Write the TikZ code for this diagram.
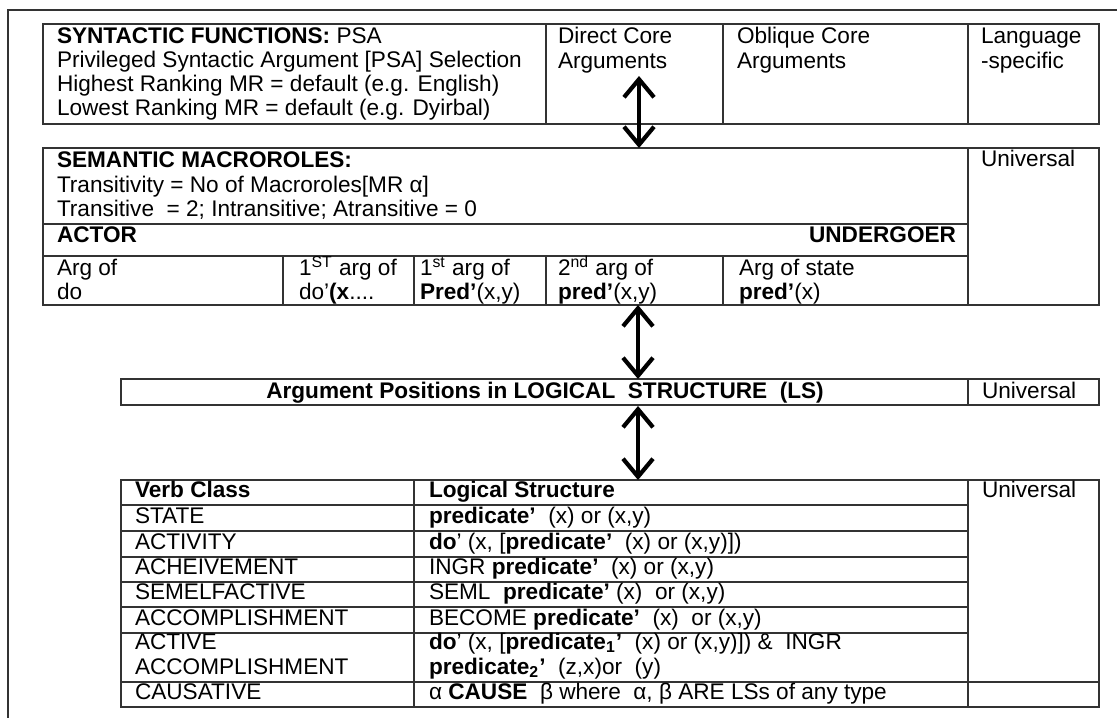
\documentclass[tikz,border=0pt]{standalone}
\usepackage{fontspec}
\setmainfont{Liberation Sans}
\usetikzlibrary{arrows.meta}
\begin{document}
\begin{tikzpicture}[x = 0.5pt, y = -0.5pt,
	every node/.style = {inner sep=0pt, outer sep=0pt},
	txt/.style = {anchor=base west, font=\fontsize{11.3}{12}\selectfont},
	rtxt/.style = {anchor=base east, font=\fontsize{11.3}{12}\selectfont},
	ctxt/.style = {anchor=base, font=\fontsize{11.3}{12}\selectfont},
	grid/.style = {line width=1pt, draw=black!80},
	dbl/.style = {{Straight Barb[length=9pt,width=15pt]}-{Straight Barb[length=9pt,width=15pt]}, line width=2.1pt}]
	\useasboundingbox (0,0) rectangle (1117,718);
	
	\draw[grid] (1117,10) -- (8,10) -- (8,718);
	
	% syntactic functions
	\draw[grid] (43,24) rectangle (1099,124);
	\draw[grid] (546,24) -- (546,124) (723,24) -- (723,124) (968,24) -- (968,124);
	\node[txt] (syn1) at (57,43) {\textbf{SYNTACTIC FUNCTIONS:} PSA};
	\node[txt] (syn2) at (57,67) {Privileged Syntactic Argument [PSA] Selection};
	\node[txt] (syn3) at (57,91) {Highest Ranking MR = default (e.g. English)};
	\node[txt] (syn4) at (57,115) {Lowest Ranking MR = default (e.g. Dyirbal)};
	\node[txt] (dca1) at (558,43) {Direct Core};
	\node[txt] (dca2) at (558,68) {Arguments};
	\node[txt] (oca1) at (737,43) {Oblique Core};
	\node[txt] (oca2) at (737,68) {Arguments};
	\node[txt] (lsp1) at (981,43) {Language};
	\node[txt] (lsp2) at (981,68) {-specific};
	
	% semantic macroroles
	\draw[grid] (43,148) rectangle (1099,305);
	\draw[grid] (968,148) -- (968,305);
	\draw[grid] (43,224) -- (968,224) (43,256) -- (968,256);
	\foreach \c in {283,414,546,723}
		\draw[grid] (\c,256) -- (\c,305);
	\node[txt] (mr1) at (57,167) {\textbf{SEMANTIC MACROROLES:}};
	\node[txt] (mr2) at (57,192) {Transitivity = No of Macroroles[MR α]};
	\node[txt] (mr3) at (57,216) {Transitive \ = 2; Intransitive; Atransitive = 0};
	\node[txt] (actor) at (57,242) {\textbf{ACTOR}};
	\node[rtxt] (undergoer) at (956,242) {\textbf{UNDERGOER}};
	\node[txt] (arg1a) at (57,275) {Arg of};
	\node[txt] (arg1b) at (57,299) {do};
	\node[txt] (arg2a) at (299,275) {1\textsuperscript{ST} arg of};
	\node[txt] (arg2b) at (299,299) {do'\textbf{(x}....};
	\node[txt] (arg3a) at (420,275) {1\textsuperscript{st} arg of};
	\node[txt] (arg3b) at (420,299) {\textbf{Pred'}(x,y)};
	\node[txt] (arg4a) at (558,275) {2\textsuperscript{nd} arg of};
	\node[txt] (arg4b) at (558,299) {\textbf{pred'}(x,y)};
	\node[txt] (arg5a) at (739,275) {Arg of state};
	\node[txt] (arg5b) at (739,299) {\textbf{pred'}(x)};
	\node[txt] (univ1) at (981,166) {Universal};
	
	% argument positions
	\draw[grid] (121,379) rectangle (1099,405);
	\draw[grid] (968,379) -- (968,405);
	\node[ctxt] (argpos) at (545,398) {\textbf{Argument Positions in LOGICAL \ STRUCTURE \ (LS)}};
	\node[txt] (univ2) at (982,398) {Universal};
	
	% verb classes
	\draw[grid] (121,480) rectangle (1099,707);
	\draw[grid] (414,480) -- (414,707) (968,480) -- (968,707);
	\foreach \r in {505,531,557,582,607,633}
		\draw[grid] (121,\r) -- (968,\r);
	\draw[grid] (121,682) -- (1099,682);
	\node[txt] (vc0) at (135,497) {\textbf{Verb Class}};
	\node[txt] (vc1) at (135,523) {STATE};
	\node[txt] (vc2) at (135,549) {ACTIVITY};
	\node[txt] (vc3) at (135,574) {ACHEIVEMENT};
	\node[txt] (vc4) at (135,599) {SEMELFACTIVE};
	\node[txt] (vc5) at (135,625) {ACCOMPLISHMENT};
	\node[txt] (vc6a) at (135,649) {ACTIVE};
	\node[txt] (vc6b) at (135,674) {ACCOMPLISHMENT};
	\node[txt] (vc7) at (135,699) {CAUSATIVE};
	\node[txt] (ls0) at (429,497) {\textbf{Logical Structure}};
	\node[txt] (ls1) at (429,523) {\textbf{predicate'} \ (x) or (x,y)};
	\node[txt] (ls2) at (429,549) {\textbf{do}' (x, [\textbf{predicate'} \ (x) or (x,y)])};
	\node[txt] (ls3) at (429,574) {INGR \textbf{predicate'} \ (x) or (x,y)};
	\node[txt] (ls4) at (429,599) {SEML \ \textbf{predicate'} (x) \ or (x,y)};
	\node[txt] (ls5) at (429,625) {BECOME \textbf{predicate'} \ (x) \ or (x,y)};
	\node[txt] (ls6a) at (429,649) {\textbf{do}' (x, [\textbf{predicate\textsubscript{1}'} \ (x) or (x,y)]) \& \ INGR};
	\node[txt] (ls6b) at (429,674) {\textbf{predicate\textsubscript{2}'} \ (z,x)or \ (y)};
	\node[txt] (ls7) at (429,699) {α \textbf{CAUSE} \ β where \ α, β ARE LSs of any type};
	\node[txt] (univ3) at (982,497) {Universal};
	
	% links between levels
	\coordinate (dcarg) at (639,76);
	\coordinate (mrtop) at (639,148);
	\coordinate (mrbot) at (638,305);
	\coordinate (aptop) at (638,379);
	\coordinate (apbot) at (638,406);
	\coordinate (vctop) at (638,480);
	\draw[dbl] (dcarg) -- (mrtop);
	\draw[dbl] (mrbot) -- (aptop);
	\draw[dbl] (apbot) -- (vctop);
\end{tikzpicture}
\end{document}
